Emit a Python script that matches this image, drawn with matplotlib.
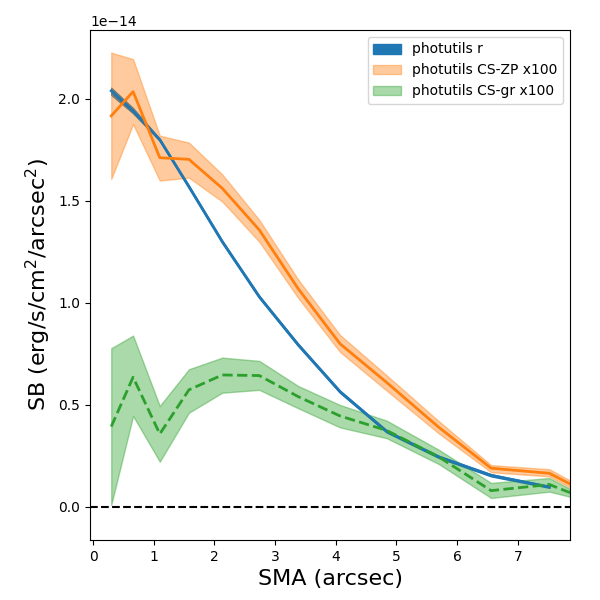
import numpy as np
import matplotlib
matplotlib.use('Agg')
import matplotlib.pyplot as plt

# values in units of 1e-14 erg/s/cm2/arcsec2
sma = [0.30, 0.66, 1.10, 1.58, 2.13, 2.74, 3.38, 4.07, 4.84, 5.70, 6.56, 7.52, 7.86]

r_sb = [2.04, 1.94, 1.80, 1.57, 1.30, 1.03, 0.795, 0.565, 0.37, 0.245, 0.155, 0.098]
r_lo = [2.02, 1.93, 1.795, 1.565, 1.295, 1.025, 0.79, 0.56, 0.365, 0.24, 0.15, 0.094]
r_hi = [2.055, 1.955, 1.805, 1.575, 1.305, 1.035, 0.80, 0.57, 0.375, 0.25, 0.16, 0.102]

zp_sb = [1.917, 2.036, 1.712, 1.704, 1.562, 1.358, 1.07, 0.80, 0.61, 0.39, 0.19, 0.165, 0.113]
zp_lo = [1.608, 1.876, 1.60, 1.614, 1.497, 1.30, 1.025, 0.76, 0.57, 0.36, 0.17, 0.15, 0.095]
zp_hi = [2.227, 2.195, 1.82, 1.786, 1.63, 1.407, 1.115, 0.843, 0.645, 0.42, 0.205, 0.185, 0.13]

gr_sb = [0.394, 0.636, 0.358, 0.574, 0.647, 0.644, 0.541, 0.446, 0.375, 0.245, 0.08, 0.11, 0.07]
gr_lo = [0.01, 0.446, 0.222, 0.462, 0.56, 0.574, 0.484, 0.39, 0.337, 0.21, 0.044, 0.075, 0.05]
gr_hi = [0.778, 0.84, 0.495, 0.675, 0.732, 0.716, 0.593, 0.50, 0.423, 0.28, 0.118, 0.142, 0.088]

scale = 1e-14
sma = np.array(sma)
nr = len(r_sb)

fig = plt.figure(figsize=(6, 6), dpi=100)
ax = fig.add_axes([0.15, 0.1, 0.8, 0.85])

ax.fill_between(sma[:nr], np.array(r_lo) * scale, np.array(r_hi) * scale,
                color='tab:blue', label='photutils r')
ax.plot(sma[:nr], np.array(r_sb) * scale, color='tab:blue', lw=2)

ax.fill_between(sma, np.array(zp_lo) * scale, np.array(zp_hi) * scale,
                color='tab:orange', alpha=0.4, label='photutils CS-ZP x100')
ax.plot(sma, np.array(zp_sb) * scale, color='tab:orange', lw=2)

ax.fill_between(sma, np.array(gr_lo) * scale, np.array(gr_hi) * scale,
                color='tab:green', alpha=0.4, label='photutils CS-gr x100')
ax.plot(sma, np.array(gr_sb) * scale, color='tab:green', lw=2, ls='--')

ax.axhline(0, color='k', ls='--', lw=1.5)

ax.set_xlim(-0.05, 7.86)
ax.set_ylim(-0.162e-14, 2.338e-14)
ax.set_xlabel('SMA (arcsec)', fontsize=16)
ax.set_ylabel('SB (erg/s/cm$^2$/arcsec$^2$)', fontsize=16)
ax.legend(loc='upper right')

fig.savefig('out.png')
